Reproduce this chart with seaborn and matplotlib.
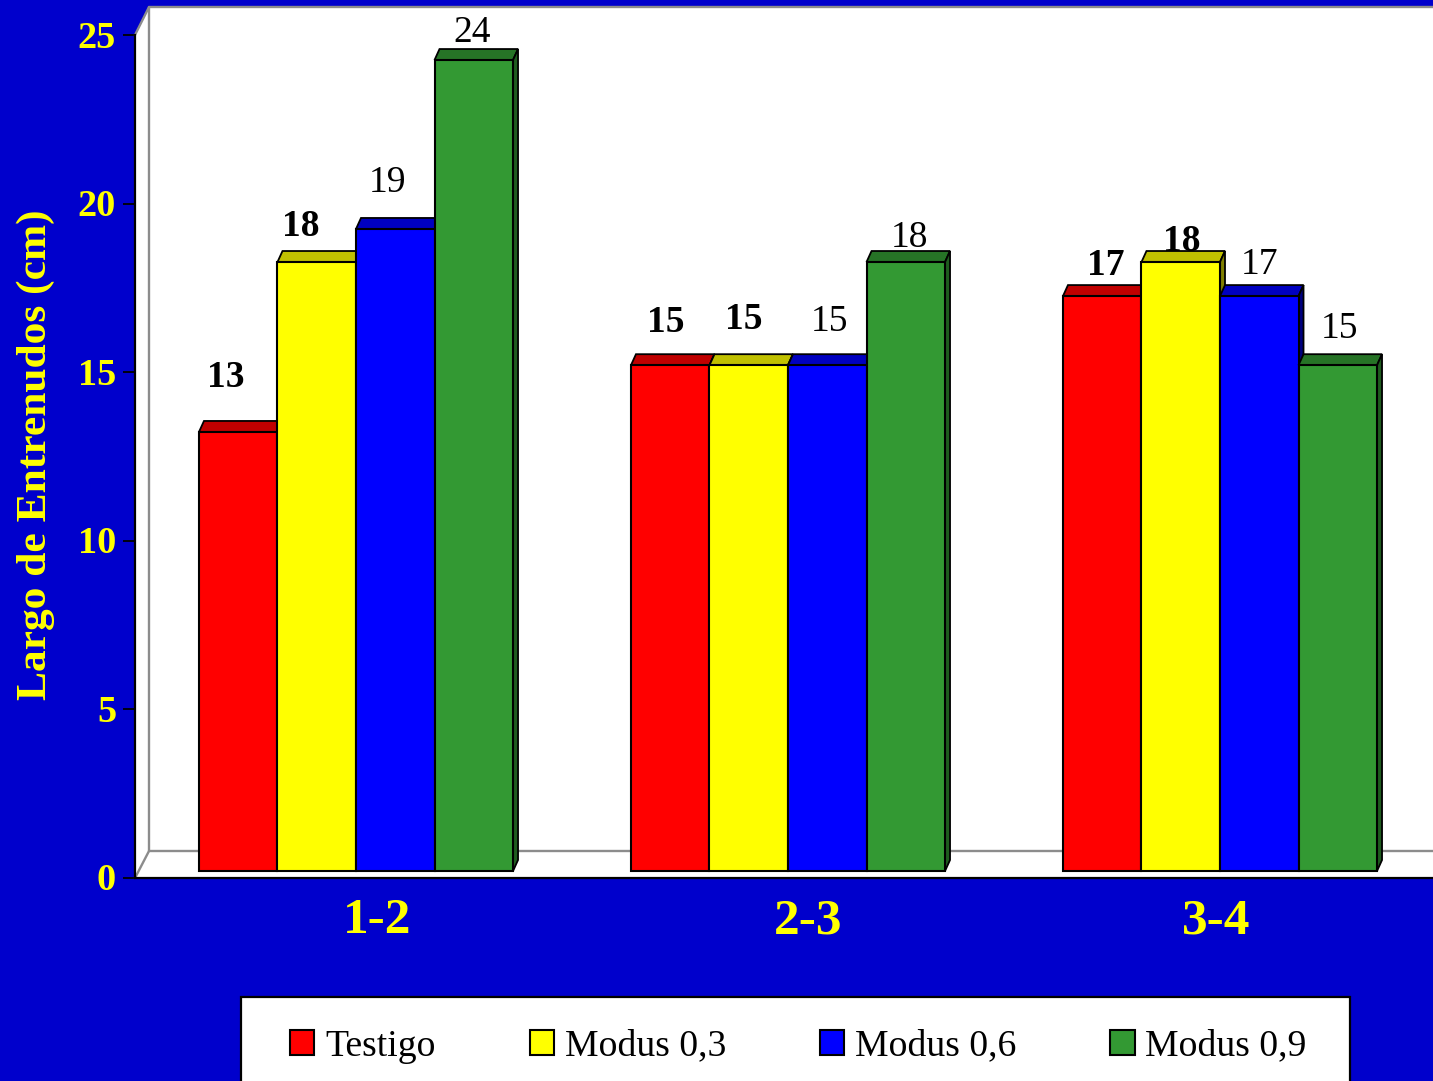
import pandas as pd
import seaborn as sns
import matplotlib
matplotlib.use('Agg')
import matplotlib.pyplot as plt
from matplotlib.patches import Polygon, Rectangle
from matplotlib.transforms import Affine2D, IdentityTransform

# datos
pares = ['1-2', '2-3', '3-4']
tratamientos = ['Testigo', 'Modus 0,3', 'Modus 0,6', 'Modus 0,9']
testigo = [13.02, 15.0, 17.05]
modus_03 = [18.06, 15.0, 18.06]
modus_06 = [19.04, 15.0, 17.05]
modus_09 = [24.05, 18.06, 15.0]
etiquetas = [[13, 15, 17], [18, 15, 18], [19, 15, 17], [24, 18, 15]]
y_ticks = [0, 5, 10, 15, 20, 25]

W, H = 1433, 1081
FONDO = '#0000CC'
AMARILLO = '#FFFF00'
colores = ['#FF0000', '#FFFF00', '#0000FF', '#339933']
colores_tapa = ['#C00000', '#C0C000', '#0000C0', '#267326']
colores_lado = ['#800000', '#808000', '#000080', '#1F5C1F']

sns.set_theme(style='white')
plt.rcParams['font.family'] = ['Liberation Serif', 'DejaVu Serif']

df = pd.DataFrame({
    'par': pares * 4,
    'trat': [t for t in tratamientos for _ in pares],
    'largo': testigo + modus_03 + modus_06 + modus_09,
})

fig = plt.figure(figsize=(W / 100, H / 100), dpi=100, facecolor=FONDO)
# ejes: x 135..1433 px, y 878..35 px
ax = fig.add_axes([135 / W, 1 - 878 / H, (1433 - 135) / W, (878 - 35) / H])
ax.patch.set_visible(False)

# transformacion en pixeles de la imagen (origen arriba a la izquierda)
px = Affine2D().scale(1, -1).translate(0, H)

# paredes falsas 3D
paredes = [
    [(135, 35), (149, 7), (149, 851), (135, 878)],
    [(149, 7), (1433, 7), (1433, 851), (149, 851)],
    [(135, 878), (149, 851), (1433, 851), (1433, 878)],
]
for p in paredes:
    ax.add_patch(Polygon(p, closed=True, fc='white', ec='none', transform=px, clip_on=False, zorder=0))
for xs, ys in [([135, 149, 1433], [35, 7, 7]), ([149, 149, 1433], [7, 851, 851]), ([149, 135], [851, 878])]:
    ax.plot(xs, ys, color='#8C8C8C', lw=1.7, transform=px, clip_on=False, zorder=1)

sns.barplot(data=df, x='par', y='largo', hue='trat', hue_order=tratamientos, order=pares,
            palette=colores, width=0.727, gap=0, edgecolor='black', linewidth=1.5,
            saturation=1, ax=ax)

ax.set_xlim((135 - 356) / 432, (1433 - 356) / 432)
ax.set_ylim(0, 25)

# subir barras 7 px y agregar tapa y lado
SUBE = 7
DX, DY = 5, 11
offset = Affine2D().translate(0, SUBE)
nudges = [[(-12, 54), (-4, 43), (4, 31)],
          [(-16, 36), (-5, 46), (1, 21)],
          [(-8, 46), (2, 43), (0, 31)],
          [(-2, 27), (4, 24), (2, 36)]]
negrita = [True, True, False, False]

for i, cont in enumerate(ax.containers):
    for j, bar in enumerate(cont):
        x0, x1 = bar.get_x(), bar.get_x() + bar.get_width()
        h = bar.get_height()
        (xa, ya), (xb, yb) = ax.transData.transform([(x0, 0), (x1, h)])
        ya += SUBE
        yb += SUBE
        z = 3 + i * 3
        tapa = [(xa, yb), (xb, yb), (xb + DX, yb + DY), (xa + DX, yb + DY)]
        lado = [(xb, ya), (xb + DX, ya + DY), (xb + DX, yb + DY), (xb, yb)]
        ax.add_patch(Polygon(tapa, closed=True, fc=colores_tapa[i], ec='black', lw=1.3,
                             transform=None, clip_on=False, zorder=z))
        ax.add_patch(Polygon(lado, closed=True, fc=colores_lado[i], ec='black', lw=1.3,
                             transform=None, clip_on=False, zorder=z))
        bar.set_transform(ax.transData + offset)
        bar.set_clip_on(False)
        bar.set_zorder(z + 1)
        nx, ny = nudges[i][j]
        ax.annotate(str(etiquetas[i][j]), xy=(x0 + bar.get_width() / 2, h),
                    xytext=(nx, ny + SUBE), textcoords='offset pixels',
                    ha='center', va='center', fontsize=27, color='black',
                    fontweight='bold' if negrita[i] else 'normal', zorder=20,
                    annotation_clip=False)

# ejes
sns.despine(ax=ax, top=True, right=True)
for lado_eje in ['left', 'bottom']:
    ax.spines[lado_eje].set_color('black')
    ax.spines[lado_eje].set_linewidth(1.6)
    ax.spines[lado_eje].set_zorder(2)
ax.set_yticks(y_ticks)
ax.tick_params(axis='y', left=True, length=8.6, width=1.3, color='black', pad=5,
               labelsize=27.5, labelcolor=AMARILLO)
ax.tick_params(axis='x', bottom=False, length=0, pad=14.5, labelsize=37, labelcolor=AMARILLO)
for lab in ax.get_yticklabels():
    lab.set_fontweight('bold')
    lab.set_transform(lab.get_transform() + Affine2D().translate(0, 1))
desvio_x = [21, 20, -4]
for lab, d in zip(ax.get_xticklabels(), desvio_x):
    lab.set_fontweight('bold')
    lab.set_transform(lab.get_transform() + Affine2D().translate(d, 0))

ax.set_xlabel('')
ax.set_ylabel('Largo de Entrenudos (cm)', color=AMARILLO, fontsize=31.3, fontweight='bold')
ax.yaxis.set_label_coords((55 - 135) / 1298, (878 - 455) / 843)

# leyenda
ax.add_patch(Rectangle((241, 997), 1109, 100, fc='white', ec='black', lw=1.6,
                       transform=px, clip_on=False, zorder=25))
handles, labels = ax.get_legend_handles_labels()
ley = ax.legend(handles, labels, ncol=4, loc='upper left', frameon=False,
                bbox_to_anchor=(290, H - 1029), bbox_transform=IdentityTransform(),
                fontsize=27.2, borderpad=0, borderaxespad=0,
                handlelength=0.645, handleheight=0.645, handletextpad=0.285,
                columnspacing=2.485, labelcolor='black')
ley.set_zorder(26)

fig.savefig('out.png', dpi=100)
